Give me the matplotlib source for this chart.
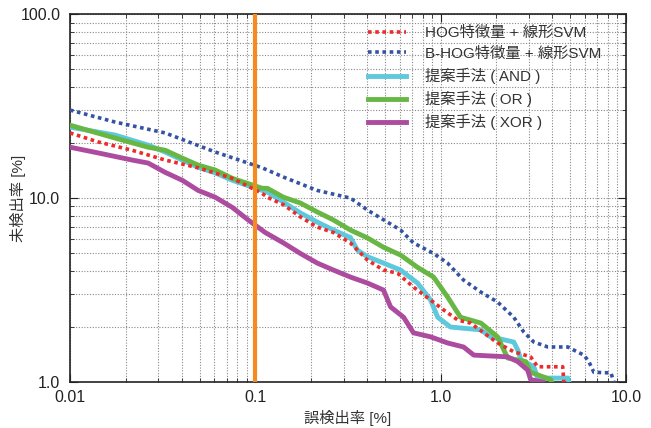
import matplotlib
matplotlib.use("Agg")
import matplotlib.pyplot as plt
from matplotlib.ticker import FixedLocator, LogLocator, NullFormatter

plt.rcParams['font.family'] = ['Liberation Sans', 'Noto Sans CJK JP']

# DET curves: false positive rate [%] vs miss rate [%]
hog_x = [0.01, 0.01417, 0.0216, 0.0326, 0.0492, 0.0751, 0.109, 0.116, 0.142, 0.175, 0.216, 0.264,
         0.326, 0.403, 0.492, 0.586, 0.714, 0.883, 1.04, 1.24, 1.45, 1.71, 2.03, 2.48, 3.06, 3.34,
         4.56, 4.62]
hog_y = [22.6, 20.2, 18.2, 16.1, 14.6, 12.8, 10.6, 10.1, 9.2, 7.9, 6.95, 6.5,
         5.7, 4.6, 4.06, 3.9, 3.28, 2.79, 2.46, 2.17, 2.09, 1.85, 1.63, 1.46, 1.37, 1.21,
         1.21, 1.0]

bhog_x = [0.01, 0.0175, 0.0326, 0.0608, 0.109, 0.142, 0.216, 0.326, 0.403, 0.608, 0.714, 0.916,
          1.09, 1.33, 1.65, 2.03, 2.48, 2.81, 3.18, 3.79, 4.86, 5.24, 5.93, 6.31, 6.71, 8.30, 8.61]
bhog_y = [30.1, 25.9, 22.6, 17.8, 14.6, 13.0, 11.0, 10.0, 8.6, 6.7, 5.7, 5.0,
          4.43, 3.58, 3.08, 2.72, 2.25, 1.87, 1.65, 1.55, 1.55, 1.49, 1.40, 1.29, 1.13, 1.12, 1.0]

and_x = [0.01, 0.0175, 0.0264, 0.0326, 0.0403, 0.0492, 0.0608, 0.0751, 0.109, 0.116, 0.142, 0.175,
         0.216, 0.264, 0.326, 0.356, 0.403, 0.492, 0.608, 0.751, 0.883, 0.964, 1.13, 1.65, 1.86,
         2.48, 2.61, 2.71, 3.18, 3.34, 4.86, 4.92]
and_y = [24.3, 22.0, 19.4, 17.8, 16.1, 14.7, 13.7, 12.5, 11.0, 10.8, 9.5, 8.3,
         7.4, 6.7, 6.1, 5.2, 4.8, 4.43, 4.06, 3.45, 2.79, 2.25, 1.99, 1.92, 1.76,
         1.65, 1.49, 1.32, 1.21, 1.05, 1.05, 1.0]

or_x = [0.01, 0.0175, 0.0264, 0.0326, 0.0403, 0.0492, 0.0608, 0.0751, 0.109, 0.116, 0.142, 0.175,
        0.216, 0.264, 0.326, 0.403, 0.492, 0.608, 0.751, 0.916, 1.09, 1.28, 1.65, 2.03, 2.30,
        2.88, 3.06, 3.93, 3.98]
or_y = [24.9, 21.2, 18.9, 18.2, 16.5, 15.1, 14.2, 12.8, 11.3, 11.3, 10.1, 9.4,
        8.4, 7.6, 6.7, 6.07, 5.4, 4.9, 4.2, 3.72, 2.9, 2.25, 2.09, 1.76, 1.35,
        1.29, 1.13, 1.03, 1.0]

xor_x = [0.01, 0.01417, 0.0216, 0.0264, 0.0326, 0.0403, 0.0492, 0.0608, 0.0751, 0.0916, 0.113,
         0.142, 0.175, 0.216, 0.264, 0.326, 0.403, 0.492, 0.537, 0.631, 0.714, 0.883, 1.09, 1.33,
         1.51, 2.30, 2.61, 2.95, 3.06, 3.56]
xor_y = [18.9, 17.6, 16.1, 15.5, 13.8, 12.5, 11.0, 10.1, 8.9, 7.6, 6.5,
         5.7, 5.0, 4.43, 4.06, 3.72, 3.45, 3.16, 2.56, 2.25, 1.85, 1.76, 1.63, 1.55,
         1.40, 1.37, 1.29, 1.16, 1.03, 1.0]

threshold_x = 0.1

x_ticks = [0.01, 0.1, 1.0, 10.0]
x_labels = ["0.01", "0.1", "1.0", "10.0"]
y_ticks = [1.0, 10.0, 100.0]
y_labels = ["1.0", "10.0", "100.0"]

fig = plt.figure(figsize=(6.51, 4.28), dpi=100)
ax = fig.add_axes([0.1075, 0.1075, 0.854, 0.8595])

ax.plot(hog_x, hog_y, color='#ee2a2a', lw=2.6, ls=(0, (1.0, 1.0)), dash_capstyle='butt',
        label='HOG特徴量 + 線形SVM', zorder=4)
ax.plot(bhog_x, bhog_y, color='#3553a3', lw=2.6, ls=(0, (1.0, 1.0)), dash_capstyle='butt',
        label='B-HOG特徴量 + 線形SVM', zorder=4)
ax.plot(and_x, and_y, color='#5ec8dc', lw=3.5, label='提案手法 ( AND )', zorder=3)
ax.plot(or_x, or_y, color='#68b744', lw=3.5, label='提案手法 ( OR )', zorder=3)
ax.plot(xor_x, xor_y, color='#ad4b9f', lw=3.5, label='提案手法 ( XOR )', zorder=3)
ax.axvline(threshold_x, color='#f58a1f', lw=3, zorder=5)

ax.set_xscale('log')
ax.set_yscale('log')
ax.set_xlim(0.01, 10)
ax.set_ylim(1, 100)

ax.xaxis.set_major_locator(FixedLocator(x_ticks))
ax.set_xticklabels(x_labels)
ax.yaxis.set_major_locator(FixedLocator(y_ticks))
ax.set_yticklabels(y_labels)
ax.xaxis.set_minor_locator(LogLocator(base=10, subs=range(2, 10)))
ax.yaxis.set_minor_locator(LogLocator(base=10, subs=range(2, 10)))
ax.xaxis.set_minor_formatter(NullFormatter())
ax.yaxis.set_minor_formatter(NullFormatter())

ax.tick_params(which='both', direction='in', top=True, right=True, labelsize=11.5, colors='#222222')
ax.tick_params(which='major', length=6)
ax.tick_params(which='minor', length=3)
ax.tick_params(axis='x', pad=6)
ax.tick_params(axis='y', pad=7)
ax.grid(True, which='both', ls=(0, (1, 1.5)), color='#888888', lw=0.8)
for s in ax.spines.values():
    s.set_color('#222222')
    s.set_linewidth(1.2)

ax.set_xlabel('誤検出率 [%]', fontsize=11, color='#333333')
ax.xaxis.set_label_coords(0.5, -0.075)
ax.set_ylabel('未検出率 [%]', fontsize=11, color='#333333')
ax.yaxis.set_label_coords(-0.079, 0.5)

leg = ax.legend(loc='upper right', bbox_to_anchor=(0.966, 0.985), frameon=False, fontsize=11,
                handlelength=2.5, handletextpad=1.2, labelspacing=0.45, borderaxespad=0.0)
for t in leg.get_texts():
    t.set_color('#333333')

fig.savefig('out.png', dpi=100)
